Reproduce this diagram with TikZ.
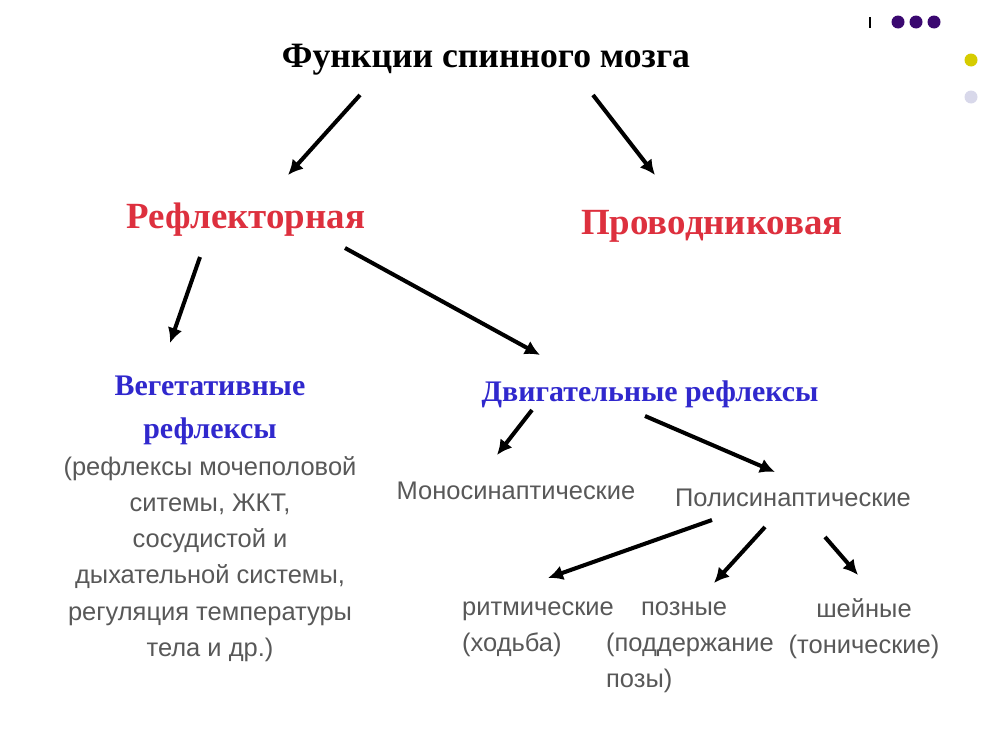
\documentclass[tikz,border=0pt]{standalone}
\usepackage{fontspec}
\setmainfont{Liberation Serif}
\setsansfont{Liberation Sans}
\usetikzlibrary{arrows.meta,calc}
\definecolor{headred}{RGB}{221,48,62}
\definecolor{subblue}{RGB}{48,40,205}
\definecolor{notegray}{RGB}{88,88,88}
\definecolor{dotpurple}{RGB}{58,8,112}
\definecolor{dotyellow}{RGB}{214,204,0}
\definecolor{dotlilac}{RGB}{216,216,234}

\begin{document}
\begin{tikzpicture}[x=0.2mm, y=-0.2mm,
    title/.style={inner sep=0pt, font=\fontsize{20.3}{25}\selectfont\bfseries},
    branch/.style={inner sep=0pt, text=headred, font=\fontsize{21}{25}\selectfont\bfseries},
    sub/.style={inner sep=0pt, text=subblue, align=center, font=\fontsize{17}{24.5}\selectfont\bfseries},
    note/.style={inner sep=0pt, text=notegray, font=\sffamily\fontsize{14.5}{20.6}\selectfont},
    line/.style={draw, line width=2.3pt, -{Latex[length=3mm,width=3mm]}}
]
    \useasboundingbox (0,0) rectangle (1000,750);

    % Slide marks
    \draw[line width=0.6pt] (870,17) -- (870,28);
    \foreach \x in {898,916,934} {
        \fill[dotpurple] (\x,22) circle (6.5);
    }
    \fill[dotyellow] (971,60) circle (6.5);
    \fill[dotlilac] (971,97) circle (6.5);

    % Top levels
    \node[title] (functions) at (486,60) {Функции спинного мозга};
    \node[branch] (reflex) at (246,220) {Рефлекторная};
    \node[branch] (conduct) at (712,226) {Проводниковая};

    % Reflex groups
    \node[sub] (vegetative) at (210,410) {Вегетативные\\рефлексы};
    \node[note, align=center, anchor=north] (vegnote) at (210,456)
        {(рефлексы мочеполовой\\ситемы, ЖКТ,\\сосудистой и\\дыхательной системы,\\регуляция температуры\\тела и др.)};
    \node[sub] (motor) at (650,394) {Двигательные рефлексы};
    \node[note] (mono) at (516,491) {Моносинаптические};
    \node[note] (poly) at (793,498) {Полисинаптические};

    % Polysynaptic kinds
    \node[note, align=left] (rhythm) at (538,629) {ритмические\\(ходьба)};
    \node[note, align=left] (posture) at (690,647) {\hspace{7mm}позные\\(поддержание\\позы)};
    \node[note, align=center] (neck) at (864,629) {шейные\\(тонические)};

    % Arrows
    \draw[line] ($(functions)+(-126,35)$) -- ($(reflex)+(42,-45)$);
    \draw[line] ($(functions)+(107,35)$) -- ($(conduct)+(-57,-51)$);
    \draw[line] ($(reflex)+(-46,37)$) -- ($(vegetative)+(-40,-67)$);
    \draw[line] ($(reflex)+(99,28)$) -- ($(motor)+(-110,-39)$);
    \draw[line] ($(motor)+(-118,16)$) -- ($(mono)+(-19,-36)$);
    \draw[line] ($(motor)+(-5,22)$) -- ($(poly)+(-18,-26)$);
    \draw[line] ($(poly)+(-81,22)$) -- ($(rhythm)+(10,-51)$);
    \draw[line] ($(poly)+(-28,29)$) -- ($(posture)+(24,-64)$);
    \draw[line] ($(poly)+(32,39)$) -- ($(neck)+(-6,-54)$);

\end{tikzpicture}
\end{document}
